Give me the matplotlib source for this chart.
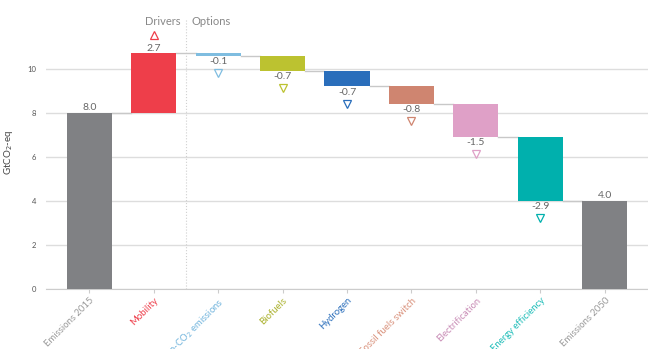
import numpy as np
import matplotlib.pyplot as plt
from matplotlib.transforms import ScaledTranslation

plt.rcParams['font.family'] = ['Lato', 'DejaVu Sans']

categories = ['Emissions 2015', 'Mobility', 'Non-CO$_2$ emissions', 'Biofuels', 'Hydrogen',
              'Fossil fuels switch', 'Electrification', 'Energy efficiency', 'Emissions 2050']
changes = [8.0, 2.7, -0.1, -0.7, -0.7, -0.8, -1.5, -2.9, 4.0]
is_total = [True, False, False, False, False, False, False, False, True]
colors = ['#808184', '#EE3E4A', '#7FBDE0', '#BCC230', '#2A6EBB',
          '#CF8570', '#DFA0C7', '#00B0AD', '#808184']
label_colors = ['#9a9a9a', '#EE3E4A', '#6FB3DC', '#A9B02A', '#2A6EBB',
                '#D9907A', '#C88BB5', '#1DBDB8', '#9a9a9a']

fig = plt.figure(figsize=(6.48, 3.49), dpi=100)
ax = fig.add_axes([0.071, 0.172, 0.929, 0.782])

x = np.arange(len(categories))
w = 0.7
bottoms, tops = [], []
level = 0.0
for i, v in enumerate(changes):
    if is_total[i]:
        b, t = 0.0, v
        level = v
    else:
        b, t = min(level, level + v), max(level, level + v)
        level = level + v
    bottoms.append(b)
    tops.append(t)

ax.bar(x, np.array(tops) - np.array(bottoms), bottom=bottoms, width=w,
       color=colors, linewidth=0, zorder=3)

# connectors between bars
level = 0.0
for i, v in enumerate(changes[:-1]):
    level = v if is_total[i] else level + v
    ax.plot([x[i] + w / 2, x[i + 1] - w / 2], [level, level], color='#c8c8c8', lw=1, zorder=2)

# value labels and triangles
up = ax.transData + ScaledTranslation(0, 13 / 72, fig.dpi_scale_trans)
down = ax.transData + ScaledTranslation(0, -12.5 / 72, fig.dpi_scale_trans)
for i, v in enumerate(changes):
    if is_total[i]:
        ax.annotate('%.1f' % v, (x[i], v), xytext=(0, 1), textcoords='offset points',
                    ha='center', va='bottom', fontsize=7.5, color='#666666')
    elif v > 0:
        ax.annotate('%.1f' % v, (x[i], tops[i]), xytext=(0, 0), textcoords='offset points',
                    ha='center', va='bottom', fontsize=7.5, color='#666666')
        ax.plot([x[i]], [tops[i]], marker='^', ms=6, mfc='none', mec=colors[i], mew=0.9,
                linestyle='none', zorder=4, transform=up)
    else:
        ax.annotate('%.1f' % v, (x[i], bottoms[i]), xytext=(0, -1), textcoords='offset points',
                    ha='center', va='top', fontsize=7.5, color='#666666')
        ax.plot([x[i]], [bottoms[i]], marker='v', ms=6, mfc='none', mec=colors[i], mew=0.9,
                linestyle='none', zorder=4, transform=down)

# drivers / options divider
ax.axvline(1.5, ymin=0, ymax=0.985, color='#d0d0d0', lw=0.8, ls=':', zorder=1)
ax.text(1.42, 12.15, 'Drivers', ha='right', va='center', fontsize=8, color='#888888')
ax.text(1.58, 12.15, 'Options', ha='left', va='center', fontsize=8, color='#888888')

ax.set_xlim(-0.67, 8.67)
ax.set_ylim(0, 12.4)
ax.set_yticks([0, 2, 4, 6, 8, 10])
ax.yaxis.grid(True, color='#dddddd', lw=1, zorder=0)
ax.set_axisbelow(True)
for s in ['top', 'right', 'left']:
    ax.spines[s].set_visible(False)
ax.spines['bottom'].set_color('#cccccc')
ax.tick_params(axis='y', length=0, labelsize=5.5, labelcolor='#555555', pad=7)
ax.tick_params(axis='x', length=3, color='#cccccc', pad=2)
ax.set_xticks(x)
ax.set_xticklabels(categories, rotation=45, ha='right', rotation_mode='anchor', fontsize=6.8)
for lab, c in zip(ax.get_xticklabels(), label_colors):
    lab.set_color(c)
ax.set_ylabel('GtCO$_2$-eq', fontsize=7, color='#444444', labelpad=9)

fig.savefig('out.png', dpi=100)
